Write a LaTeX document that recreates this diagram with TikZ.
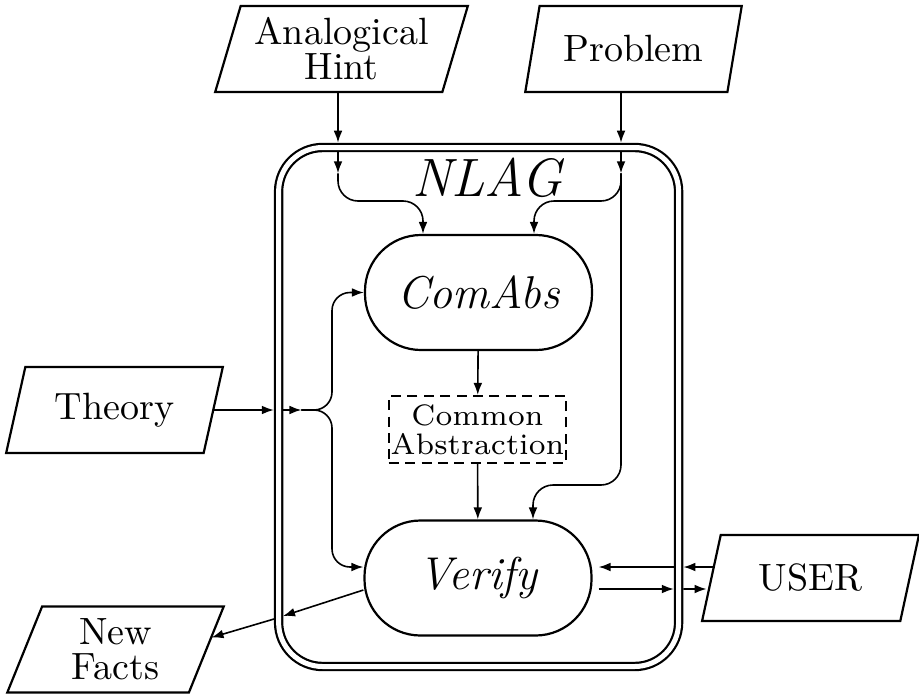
\documentclass[tikz,border=0pt]{standalone}
\usetikzlibrary{shapes.geometric,arrows.meta}
\begin{document}
\begin{tikzpicture}[
    x=0.25pt, y=-0.25pt,
    line width=0.55pt,
    io/.style={draw, trapezium, trapezium left angle=72, trapezium right angle=108,
        trapezium stretches=true, minimum width=54.25pt, minimum height=21.5pt,
        inner sep=1pt, align=center, font=\fontsize{9.5}{8.8}\selectfont},
    proc/.style={draw, rounded corners=14pt, minimum width=56.75pt, minimum height=28.75pt,
        font=\fontsize{11.5}{12}\selectfont\itshape},
    store/.style={draw, dash pattern=on 2.5pt off 1.6pt, minimum width=42.25pt,
        minimum height=16.75pt, inner sep=0.5pt, align=center,
        font=\fontsize{7.4}{7.2}\selectfont},
    nlagbox/.style={draw, double, double distance=1.25pt, rounded corners=11pt,
        minimum width=100pt, minimum height=129.75pt, outer sep=0pt},
    arr/.style={-{Latex[length=3pt,width=2.2pt]}, line width=0.4pt}
    ]
    \useasboundingbox (0,0) rectangle (919,696);
    % outside
    \node[io, minimum width=63.25pt] (hint) at (341.5,49) {Analogical\\Hint};
    \node[io] (problem) at (633.5,49) {Problem};
    \node[io] (theory) at (114.5,410) {Theory};
    \node[io] (facts) at (115.5,649.5) {New\\Facts};
    \node[io] (user) at (810.5,578) {USER};
    % the system
    \node[nlagbox] (nlag) at (478.6,407) {};
    \node[font=\fontsize{13.5}{14}\selectfont\itshape] (title) at (487,178) {NLAG};
    \node[proc] (comabs) at (478.5,292.5) {ComAbs};
    \node[store] (common) at (477.5,429.5) {Common\\Abstraction};
    \node[proc] (verify) at (478,578) {Verify};

    \draw[arr] (comabs) -- (common);
    \draw[arr] (common) -- (verify);

    % hint and problem
    \coordinate (hx) at (338,0);
    \coordinate (px) at (621,0);
    \coordinate (hT) at (nlag.north -| hx);
    \coordinate (pT) at (nlag.north -| px);
    \draw[arr] (hint.south -| hx) -- ([yshift=1.2pt]hT);
    \draw[arr] (problem.south -| px) -- ([yshift=1.2pt]pT);
    \draw[arr] ([yshift=-1.2pt]hT) -- ++(0,21) coordinate (hA);
    \draw[arr] ([yshift=-1.2pt]pT) -- ++(0,21) coordinate (pA);
    \coordinate (hB) at (423,201);
    \coordinate (pB) at (534,201);
    \draw[arr, rounded corners=5pt] (hA) |- (hB) -- (comabs.north -| hB);
    \draw[arr, rounded corners=5pt] (pA) |- (pB) -- (comabs.north -| pB);
    \coordinate (pC) at (621,485);
    \coordinate (pD) at (533,485);
    \draw[arr, rounded corners=5pt] (pA) -- (pC) -- (pD) -- (verify.north -| pD);

    % theory
    \coordinate (tW) at (nlag.west |- theory.east);
    \draw[arr] (theory.east) -- ([xshift=-1.2pt]tW);
    \draw[arr] ([xshift=1.2pt]tW) -- ++(18,0) coordinate (tA);
    \coordinate (tx) at (332,0);
    \coordinate (vl) at ([yshift=2.75pt]verify.west);
    \draw[arr, rounded corners=4.5pt] (tA) -| (tx |- comabs.west) -- (comabs.west);
    \draw[arr, rounded corners=4.5pt] (tA) -| (tx |- vl) -- (vl);

    % user
    \coordinate (vu) at ([yshift=2.75pt]verify.east);
    \coordinate (vd) at ([yshift=-2.75pt]verify.east);
    \coordinate (bu) at (nlag.east |- vu);
    \coordinate (bd) at (nlag.east |- vd);
    \draw[arr] ([shift={(0.94pt,2.75pt)}]user.west) -- ([xshift=1.2pt]bu);
    \draw[arr] ([xshift=-1.2pt]bu) -- ([xshift=1.5pt]vu);
    \draw[arr] ([xshift=1.5pt]vd) -- ([xshift=-1.2pt]bd);
    \draw[arr] ([xshift=1.2pt]bd) -- ([shift={(-0.94pt,-2.75pt)}]user.west);

    % new facts
    \coordinate (fV) at ([yshift=-3pt]verify.west);
    \coordinate (fIn) at (283,616);
    \coordinate (fOut) at (274,619);
    \draw[arr] (fV) -- (fIn);
    \draw[arr] (fOut) -- ([shift={(1pt,3pt)}]facts.east);
\end{tikzpicture}
\end{document}
